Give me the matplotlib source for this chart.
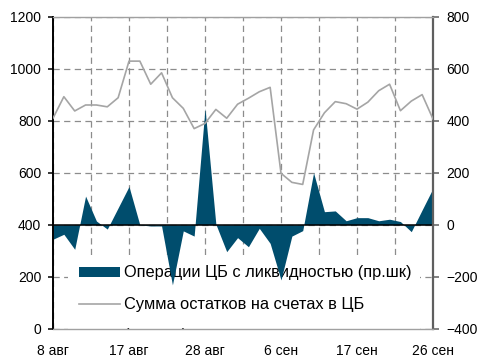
import matplotlib
matplotlib.use("Agg")
import matplotlib.pyplot as plt
from matplotlib.patches import Rectangle
from matplotlib.lines import Line2D
import numpy as np

plt.rcParams["font.family"] = ["Liberation Sans", "DejaVu Sans"]

# business days 8 Aug .. 26 Sep, labels every 7th day
tick_labels = ["8 авг", "17 авг", "28 авг", "6 сен", "17 сен", "26 сен"]

# CB liquidity operations (right axis)
cb_ops = [-56, -37, -95, 110, 14, -17, 65, 147, -1, -5, -5, -232,
          -24, -44, 448, 2, -104, -50, -85, -14, -72, -213, -44, -23,
          200, 50, 53, 15, 27, 27, 15, 21, 12, -27, 57, 140]
# sum of balances on CB accounts (left axis)
balances = [810, 893, 838, 861, 861, 854, 889, 1030, 1030, 941, 985, 889,
            848, 770, 790, 844, 810, 864, 887, 912, 929, 598, 563, 555,
            765, 831, 874, 866, 845, 872, 916, 941, 839, 876, 901, 807]

label_ops = "Операции ЦБ с ликвидностью (пр.шк)"
label_bal = "Сумма остатков на счетах в ЦБ"
label_bal2 = "(лев.шк)"

AREA = "#004d6d"
LINE = "#a5a5a5"
GRID = "#8c8c8c"

x = np.arange(len(balances))

fig = plt.figure(figsize=(4.8, 3.6), dpi=100)
ax = fig.add_axes([53 / 480, 1 - 328.5 / 360, 380 / 480, 311.5 / 360])
ax2 = ax.twinx()

ax.set_xlim(0, len(x) - 1)
ax.set_ylim(0, 1200)
ax2.set_ylim(-400, 800)
ax.set_yticks(range(0, 1201, 200))
ax2.set_yticks(range(-400, 801, 200))

xt = np.arange(0, len(x) - 0.5, 3.5)
ax.set_xticks(xt)
ax.set_xticklabels([tick_labels[i // 2] if i % 2 == 0 else "" for i in range(len(xt))])

ax.grid(True, color=GRID, linestyle=(0, (5, 3.5)), linewidth=0.9)

# legend drawn by hand: white box behind the data, text clipped by the axes
ax2.add_patch(Rectangle((0.04, -0.02), 0.925, 0.256, transform=ax.transAxes,
                        facecolor="white", edgecolor="none", zorder=0.5))
ax2.add_patch(Rectangle((26 / 380, (328.5 - 277) / 311.5), 41 / 380, 10 / 311.5,
                        transform=ax.transAxes, facecolor=AREA, edgecolor="none",
                        zorder=0.6))
ax2.add_line(Line2D([26 / 380, 67 / 380], [(328.5 - 303.5) / 311.5] * 2,
                    transform=ax.transAxes, color=LINE, linewidth=1.2, zorder=0.6))
t_kw = dict(transform=ax.transAxes, fontsize=11.8, va="center", ha="left",
            zorder=0.6, clip_on=True)
ax2.text(71 / 380, (328.5 - 272) / 311.5, label_ops, **t_kw)
ax2.text(71 / 380, (328.5 - 304.5) / 311.5, label_bal, **t_kw)
ax2.text(71 / 380, (328.5 - 335.5) / 311.5, label_bal2, **t_kw)

ax2.fill_between(x, cb_ops, 0, color=AREA, linewidth=0, zorder=1)
ax2.axhline(0, color="black", linewidth=1.1, zorder=2)
ax2.plot(x, [(b - 400) for b in balances], color=LINE, linewidth=1.2, zorder=3)

ax.set_zorder(0)
ax2.set_zorder(1)
ax.patch.set_visible(True)
ax2.patch.set_visible(False)

for a in (ax, ax2):
    for s in a.spines.values():
        s.set_visible(False)
ax2.spines["left"].set_visible(True)
ax2.spines["left"].set_color("black")
ax2.spines["left"].set_linewidth(1.4)
ax2.spines["right"].set_visible(True)
ax2.spines["right"].set_color("#5f5f5f")
ax2.spines["right"].set_linewidth(1.6)
ax2.spines["top"].set_visible(True)
ax2.spines["top"].set_color("#a0a0a0")
ax2.spines["top"].set_linewidth(1.0)
ax2.spines["bottom"].set_visible(True)
ax2.spines["bottom"].set_color("#a0a0a0")
ax2.spines["bottom"].set_linewidth(1.0)

ax.tick_params(axis="y", direction="out", length=3.5, width=1.1, color="black",
               pad=5, labelsize=10)
ax.tick_params(axis="x", direction="in", length=3, width=0.8, color="#a0a0a0",
               pad=11, labelsize=10)
ax2.tick_params(axis="y", direction="out", length=4.5, width=1.1, color="#5f5f5f",
                pad=5, labelsize=10)

fig.savefig("out.png", dpi=100)
